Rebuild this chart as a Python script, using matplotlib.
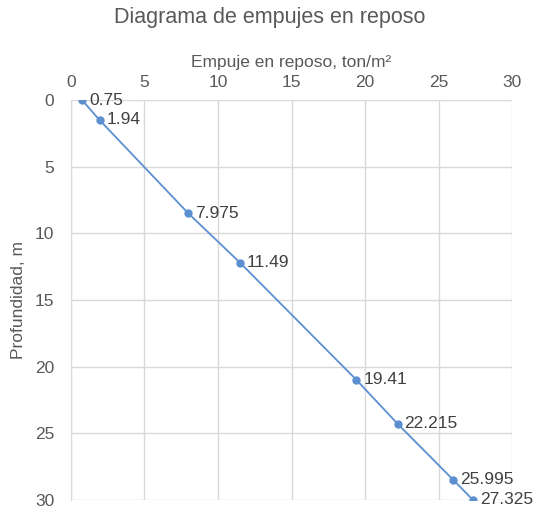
import matplotlib
matplotlib.use("Agg")
import matplotlib.pyplot as plt

plt.rcParams['font.family'] = ['Liberation Sans', 'DejaVu Sans']

empuje = [0.75, 1.94, 7.975, 11.49, 19.41, 22.215, 25.995, 27.325]
profundidad = [0, 1.5, 8.5, 12.2, 21, 24.3, 28.5, 30]
etiquetas = ['0.75', '1.94', '7.975', '11.49', '19.41', '22.215', '25.995', '27.325']

gris = '#595959'
azul = '#5b8fd0'

fig = plt.figure(figsize=(5.39, 5.11), dpi=100)
ax = fig.add_axes([0.1317, 0.022, 0.8183, 0.7823])

ax.plot(empuje, profundidad, color=azul, lw=1.3, marker='o', ms=5, zorder=3)
for x, y, t in zip(empuje, profundidad, etiquetas):
    ax.annotate(t, (x, y), xytext=(5, 0), textcoords='offset points',
                va='center', ha='left', fontsize=12.5, color='#404040', zorder=4)

ax.set_xlim(0, 30)
ax.set_ylim(30, 0)
ax.set_xticks(range(0, 31, 5))
ax.set_yticks(range(0, 31, 5))
ax.xaxis.tick_top()
ax.xaxis.set_label_position('top')
ax.tick_params(axis='x', length=0, labelsize=12.5, labelcolor=gris, pad=7)
ax.tick_params(axis='y', length=0, labelsize=12.5, labelcolor=gris, pad=12)
ax.grid(True, color='#d9d9d9', lw=1)
for s in ax.spines.values():
    s.set_visible(False)
ax.spines['left'].set_visible(True)
ax.spines['left'].set_color('#d9d9d9')
ax.set_axisbelow(True)

ax.set_xlabel('Empuje en reposo, ton/m²', fontsize=12.5, color=gris, labelpad=6)
ax.set_ylabel('Profundidad, m', fontsize=12.5, color=gris, labelpad=6)
fig.text(0.5, 0.966, 'Diagrama de empujes en reposo', ha='center', va='center',
         fontsize=15.5, color=gris)

fig.savefig('out.png', dpi=100)
